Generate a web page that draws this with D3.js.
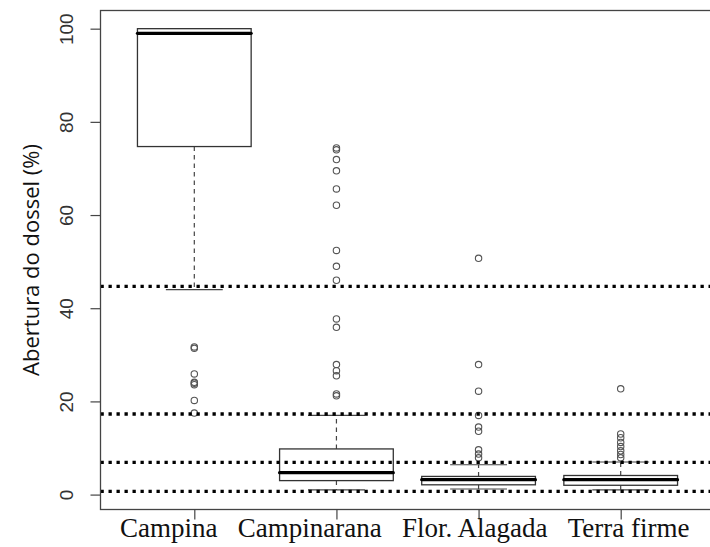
<!DOCTYPE html>
<html lang="pt">
  <head>
    <meta charset="UTF-8" />
    <title>Abertura do dossel</title>
    <script src="https://d3js.org/d3.v7.min.js"></script>
    <style>
      body {
        margin: 0;
        background: #fff;
      }
      svg {
        display: block;
      }
      .tick-label {
        font-family: "Liberation Sans", Arial, sans-serif;
        font-size: 19px;
        fill: #333;
      }
      .y-title {
        font-family: "Open Sans", sans-serif;
        font-size: 22px;
        fill: #111;
      }
      .x-title {
        font-family: "Liberation Serif", "Times New Roman", serif;
        font-size: 27px;
        fill: #111;
      }
    </style>
  </head>
  <body>
    <svg width="710" height="547"></svg>
    <script>
      // values
      const categories = ["Campina", "Campinarana", "Flor. Alagada", "Terra firme"];
      const whiskerLow = [44.0, 1.0, 1.2, 1.0];
      const q1 = [74.7, 3.0, 2.1, 2.0];
      const median = [99.0, 4.7, 3.2, 3.2];
      const q3 = [100, 9.8, 3.9, 4.1];
      const whiskerHigh = [100, 17.0, 6.4, 7.0];
      const outliers = [
        [31.7, 31.4, 25.9, 24.1, 23.9, 23.6, 20.2, 17.5],
        [74.4, 74.0, 71.9, 69.5, 65.6, 62.1, 52.4, 49.0, 46.0, 37.7, 35.9, 27.9, 26.6, 25.5, 21.6, 21.2],
        [50.7, 27.9, 22.2, 17.0, 14.5, 13.6, 9.6, 8.7, 7.9],
        [22.7, 13.0, 12.2, 11.2, 10.3, 9.4, 8.6, 7.9]
      ];
      const refLines = [44.7, 17.3, 6.9, 0.7];
      const yTicks = [0, 20, 40, 60, 80, 100];

      const svg = d3.select("svg");
      const frame = { left: 100.5, top: 10.5, right: 714.5, bottom: 509.5 };

      // R-style usr ranges (4% padding)
      const x = d3.scaleLinear().domain([0.34, 4.66]).range([frame.left, frame.right]);
      const y = d3.scaleLinear().domain([-3.2, 103.9]).range([frame.bottom, frame.top]);

      const boxes = categories.map((c, i) => ({
        name: c,
        pos: i + 1,
        lo: whiskerLow[i],
        q1: q1[i],
        med: median[i],
        q3: q3[i],
        hi: whiskerHigh[i],
        out: outliers[i]
      }));

      const g = svg.append("g");
      const halfBox = 0.4, halfCap = 0.2;

      // whiskers (dashed)
      g.selectAll(".wlo")
        .data(boxes)
        .join("line")
        .attr("x1", (d) => x(d.pos))
        .attr("x2", (d) => x(d.pos))
        .attr("y1", (d) => y(d.q1))
        .attr("y2", (d) => y(d.lo))
        .attr("stroke", "#444")
        .attr("stroke-width", 1.2)
        .attr("stroke-dasharray", "4.5,4");
      g.selectAll(".whi")
        .data(boxes.filter((d) => d.hi > d.q3))
        .join("line")
        .attr("x1", (d) => x(d.pos))
        .attr("x2", (d) => x(d.pos))
        .attr("y1", (d) => y(d.q3))
        .attr("y2", (d) => y(d.hi))
        .attr("stroke", "#444")
        .attr("stroke-width", 1.2)
        .attr("stroke-dasharray", "4.5,4");

      // staples
      ["lo", "hi"].forEach((k) => {
        g.selectAll(".cap-" + k)
          .data(boxes)
          .join("line")
          .attr("x1", (d) => x(d.pos - halfCap))
          .attr("x2", (d) => x(d.pos + halfCap))
          .attr("y1", (d) => y(d[k]))
          .attr("y2", (d) => y(d[k]))
          .attr("stroke", "#444")
          .attr("stroke-width", 1.2);
      });

      // boxes
      g.selectAll(".box")
        .data(boxes)
        .join("rect")
        .attr("x", (d) => x(d.pos - halfBox))
        .attr("width", (d) => x(d.pos + halfBox) - x(d.pos - halfBox))
        .attr("y", (d) => y(d.q3))
        .attr("height", (d) => y(d.q1) - y(d.q3))
        .attr("fill", "#fff")
        .attr("stroke", "#333")
        .attr("stroke-width", 1.3);

      // medians
      g.selectAll(".med")
        .data(boxes)
        .join("line")
        .attr("x1", (d) => x(d.pos - halfBox))
        .attr("x2", (d) => x(d.pos + halfBox))
        .attr("y1", (d) => y(d.med))
        .attr("y2", (d) => y(d.med))
        .attr("stroke", "#000")
        .attr("stroke-width", 3.2)
        .attr("stroke-linecap", "round");

      // outliers
      const pts = boxes.flatMap((d) => d.out.map((v) => ({ pos: d.pos, v })));
      g.selectAll(".out")
        .data(pts)
        .join("circle")
        .attr("cx", (d) => x(d.pos))
        .attr("cy", (d) => y(d.v))
        .attr("r", 3.2)
        .attr("fill", "none")
        .attr("stroke", "#555")
        .attr("stroke-width", 1.1);

      // dotted reference lines
      svg.selectAll(".ref")
        .data(refLines)
        .join("line")
        .attr("x1", frame.left)
        .attr("x2", frame.right)
        .attr("y1", (d) => y(d))
        .attr("y2", (d) => y(d))
        .attr("stroke", "#000")
        .attr("stroke-width", 3.3)
        .attr("stroke-dasharray", "3.3,4.7");

      // frame
      svg.append("rect")
        .attr("x", frame.left)
        .attr("y", frame.top)
        .attr("width", frame.right - frame.left)
        .attr("height", frame.bottom - frame.top)
        .attr("fill", "none")
        .attr("stroke", "#444")
        .attr("stroke-width", 1.3);

      // y axis
      const yAxis = svg.append("g")
        .attr("transform", `translate(${frame.left},0)`)
        .call(d3.axisLeft(y).tickValues(yTicks).tickSize(10).tickFormat(d3.format("d")));
      yAxis.select(".domain").remove();
      yAxis.selectAll("line").attr("stroke", "#444").attr("stroke-width", 1.2);
      yAxis.selectAll("text")
        .attr("class", "tick-label")
        .attr("x", null)
        .attr("dy", null)
        .attr("text-anchor", "middle")
        .attr("transform", "translate(-28,0) rotate(-90)");

      // x axis ticks
      const xAxis = svg.append("g")
        .attr("transform", `translate(0,${frame.bottom})`)
        .call(d3.axisBottom(x).tickValues(boxes.map((d) => d.pos)).tickSize(10).tickFormat(""));
      xAxis.select(".domain").remove();
      xAxis.selectAll("line").attr("stroke", "#444").attr("stroke-width", 1.2);

      // x title: group names in one line, centred under the plot
      svg.append("text")
        .attr("class", "x-title")
        .attr("x", (frame.left + 709) / 2)
        .attr("y", 537)
        .attr("text-anchor", "middle")
        .text(categories.join("\u00A0\u00A0\u00A0"));

      // y title
      svg.append("text")
        .attr("class", "y-title")
        .attr("transform", `translate(39,${(frame.top + frame.bottom) / 2}) rotate(-90)`)
        .attr("text-anchor", "middle")
        .text("Abertura do dossel (%)");
    </script>
  </body>
</html>
